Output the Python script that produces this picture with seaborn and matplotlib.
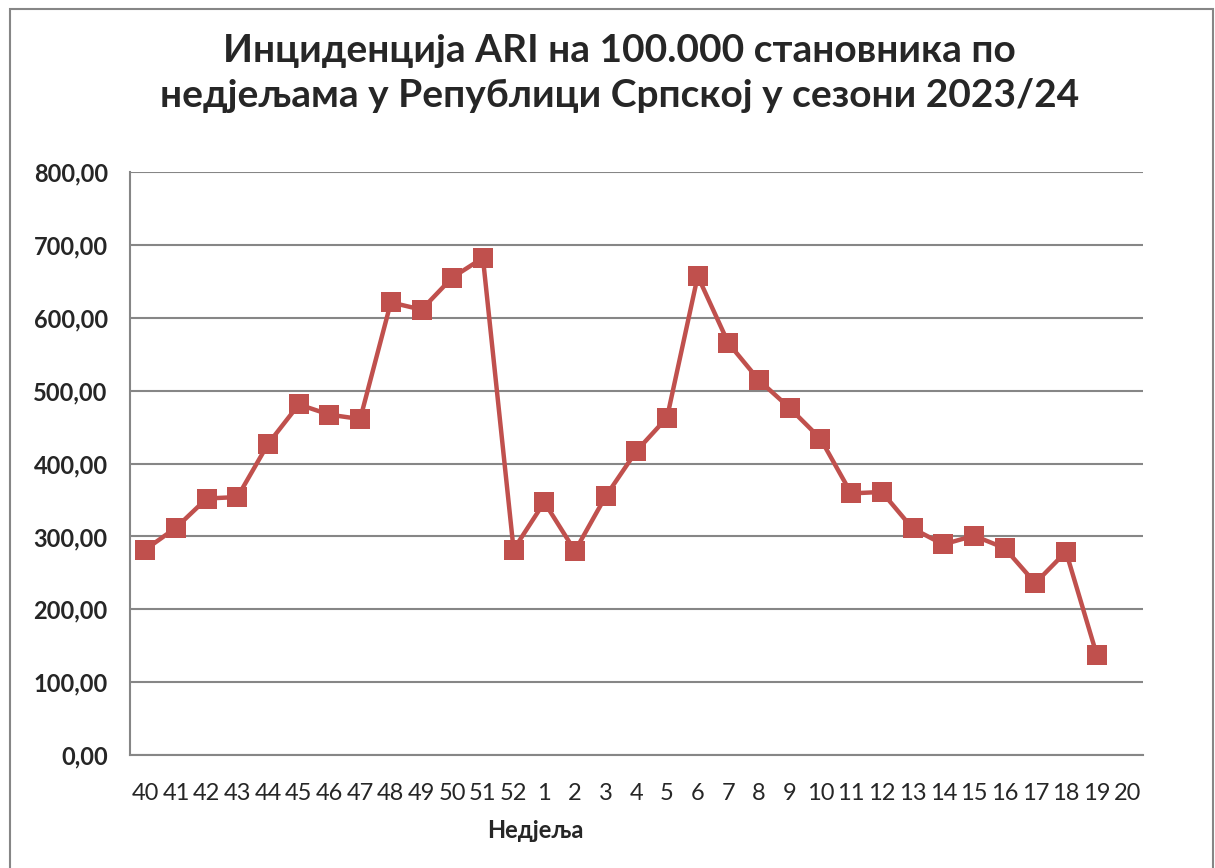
import numpy as np
import pandas as pd
import matplotlib
matplotlib.use("Agg")
import matplotlib.pyplot as plt
import seaborn as sns
from matplotlib.patches import Rectangle

# weeks of the season, week 20 has no value yet
weeks = [str(w) for w in list(range(40, 53)) + list(range(1, 21))]
incidence = [282, 312, 352, 354, 427, 481, 467, 461, 621, 611, 655, 682, 282,
             347, 280, 355, 417, 463, 657, 565, 514, 476, 434, 359, 361,
             311, 289, 301, 284, 236, 279, 138]

df = pd.DataFrame({"week": weeks[:len(incidence)], "ari": incidence})
df["pos"] = np.arange(len(df))

sns.set_style("white")
plt.rcParams["font.family"] = ["Lato", "DejaVu Sans"]

red = "#C0504D"
grey = "#868686"

fig = plt.figure(figsize=(12.15, 8.68), dpi=100)
ax = fig.add_axes([0.107, 0.130, 0.8335, 0.672])

sns.lineplot(data=df, x="pos", y="ari", color=red, linewidth=3.2, marker="s",
             markersize=14, markeredgewidth=0, sort=False, ax=ax)

ax.set_xlim(-0.5, len(weeks) - 0.5)
ax.set_ylim(0, 800)
ax.set_yticks(np.arange(0, 801, 100))
ax.set_yticklabels([f"{v:.2f}".replace(".", ",") for v in range(0, 801, 100)],
                   fontsize=17, fontweight="bold")
ax.set_xticks(np.arange(len(weeks)))
ax.set_xticklabels(weeks, fontsize=17)
ax.set_xticks(np.arange(len(weeks) + 1) - 0.5, minor=True)
ax.tick_params(axis="x", which="major", length=0, pad=20)
ax.tick_params(axis="x", which="minor", length=7, width=1.5, color=grey, direction="out")
ax.tick_params(axis="y", length=7, width=1.5, color=grey, direction="out", pad=9)

ax.grid(axis="y", color=grey, linewidth=1.5)
ax.set_axisbelow(True)
for s in ["top", "right"]:
    ax.spines[s].set_visible(False)
for s in ["left", "bottom"]:
    ax.spines[s].set_color(grey)
    ax.spines[s].set_linewidth(1.5)

ax.set_xlabel("Недјеља", fontsize=17, fontweight="bold")
ax.xaxis.set_label_coords(0.40, -0.11)
ax.set_ylabel("")

fig.text(0.51, 0.916, "Инциденција ARI на 100.000 становника по\nнедјељама у Републици Српској у сезони 2023/24",
         ha="center", va="center", fontsize=28, fontweight="bold", linespacing=1.35)

fig.patches.append(Rectangle((0.008, -0.01), 0.99, 1.0, transform=fig.transFigure,
                             fill=False, edgecolor=grey, linewidth=1.5))

fig.savefig("out.png", dpi=100)
